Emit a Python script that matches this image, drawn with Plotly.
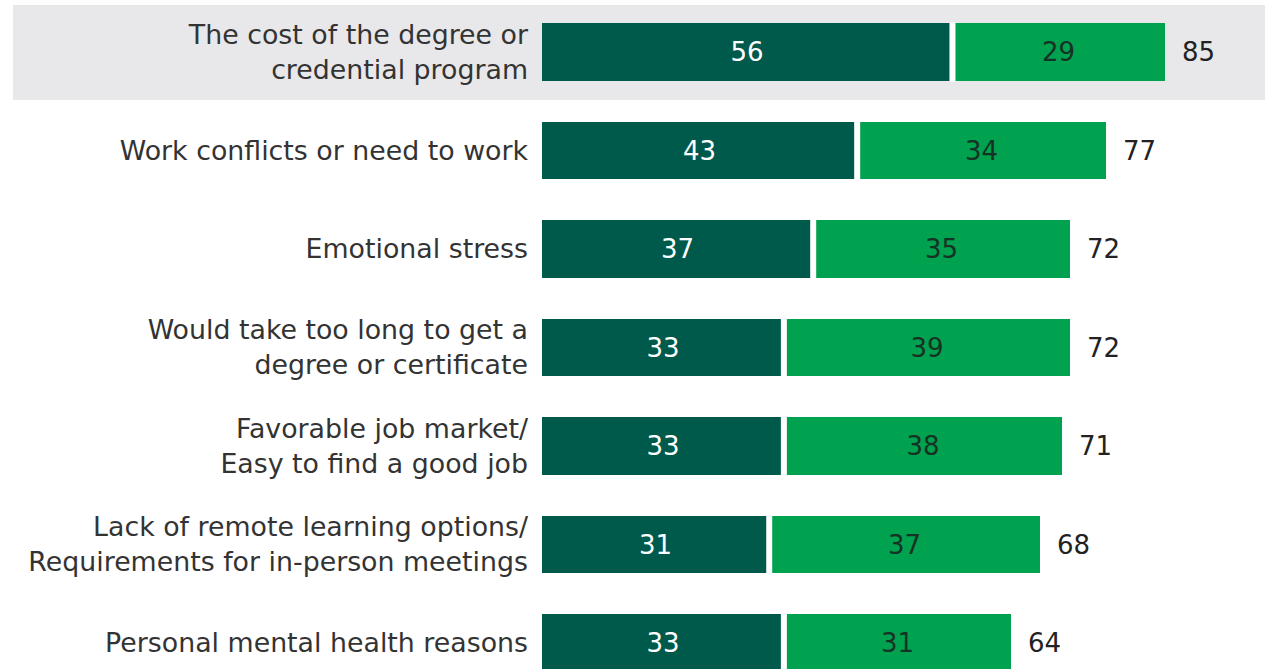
import plotly.graph_objects as go

categories = [
    "The cost of the degree or<br>credential program",
    "Work conflicts or need to work",
    "Emotional stress",
    "Would take too long to get a<br>degree or certificate",
    "Favorable job market/<br>Easy to find a good job",
    "Lack of remote learning options/<br>Requirements for in-person meetings",
    "Personal mental health reasons",
]
series_dark = [56, 43, 37, 33, 33, 31, 33]
series_bright = [29, 34, 35, 39, 38, 37, 31]
totals = [85, 77, 72, 72, 71, 68, 64]

DARK = "#005A4C"
BRIGHT = "#00A14F"
FONT = "DejaVu Sans"
BAR_W = 0.58

ypos = list(range(len(categories)))

fig = go.Figure()
fig.add_trace(go.Bar(
    y=ypos, x=series_dark, orientation="h",
    marker=dict(color=DARK, line=dict(width=0)),
    width=BAR_W,
    text=[str(v) for v in series_dark], textposition="inside",
    insidetextanchor="middle",
    textfont=dict(color="white", size=26, family=FONT),
    hoverinfo="skip",
))
fig.add_trace(go.Bar(
    y=ypos, x=series_bright, orientation="h",
    marker=dict(color=BRIGHT, line=dict(width=0)),
    width=BAR_W,
    text=[str(v) for v in series_bright], textposition="inside",
    insidetextanchor="middle",
    textfont=dict(color="#163224", size=26, family=FONT),
    hoverinfo="skip",
))

# white separator between the two segments of each bar
for y, d in zip(ypos, series_dark):
    fig.add_shape(type="line", xref="x", yref="y",
                  x0=d, x1=d, y0=y - BAR_W / 2 - 0.01, y1=y + BAR_W / 2 + 0.01,
                  line=dict(color="white", width=6), layer="above")

for y, t in zip(ypos, totals):
    fig.add_annotation(x=t, y=y, text=str(t), showarrow=False,
                       xanchor="left", xshift=15,
                       font=dict(size=26, color="#222222", family=FONT))

# highlighted first row band
fig.add_shape(type="rect", xref="paper", yref="y",
              x0=-0.7317, x1=1.0, y0=-0.477, y1=0.487,
              fillcolor="#E8E8EA", line=dict(width=0), layer="below")

fig.update_layout(
    barmode="stack",
    width=1265, height=669,
    margin=dict(l=542, r=0, t=0, b=0),
    paper_bgcolor="white", plot_bgcolor="rgba(0,0,0,0)",
    showlegend=False,
    bargap=0,
    font=dict(family=FONT, size=26, color="#333333"),
)
fig.update_xaxes(range=[0, 98.64], visible=False, showgrid=False, zeroline=False)
fig.update_yaxes(range=[6.264, -0.528], tickvals=ypos, ticktext=categories,
                 showgrid=False, zeroline=False, showline=False, ticks="",
                 ticklabelstandoff=13,
                 tickfont=dict(family=FONT, size=26.8, color="#333333"))

fig.write_html("out.html", config={"displayModeBar": False},
               post_script="document.body.style.margin='0';document.body.style.overflow='hidden';")
